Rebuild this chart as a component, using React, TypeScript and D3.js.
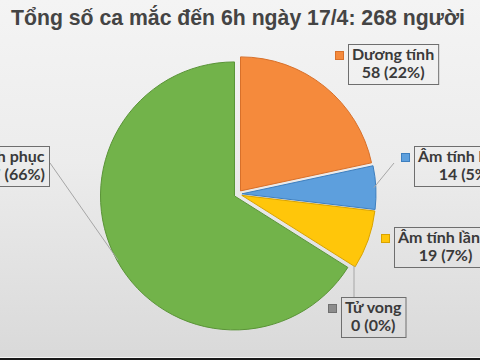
import React, {useEffect, useRef} from 'react'
import * as d3 from 'd3';

const title = 'Tổng số ca mắc đến 6h ngày 17/4: 268 người';
const categories = ['Dương tính', 'Âm tính lần 1', 'Âm tính lần 2', 'Tử vong', 'Bình phục'];
const values = [58, 14, 19, 0, 177];
const colors = ['#f58a3c', '#5d9fdd', '#ffc60a', '#8c8c8c', '#72b34a'];
const strokes = ['#d8702a', '#3d7fbf', '#d9a300', '#6f6f6f', '#5a9437'];

// label box placement: anchor side, x of that side, top y
const labelLayout = [
    {side: 'left', x: 348, top: 44},
    {side: 'left', x: 414, top: 146},
    {side: 'left', x: 394, top: 227},
    {side: 'left', x: 341, top: 297},
    {side: 'right', x: 49, top: 146},
];

export default function App(){
    const svgRef = useRef(null);
    const width = 480, height = 360;
    const cx = 238, cy = 194, r = 134, explode = 4;

    useEffect(() => {
        const svg = d3.select(svgRef.current);
        svg.selectAll('*').remove();

        const total = d3.sum(values);
        const pct = d3.format('.0%');
        const data = categories.map((c, i) => ({name: c, value: values[i], i}));

        const defs = svg.append('defs');
        const grad = defs.append('linearGradient').attr('id', 'bg').attr('x1', 0).attr('y1', 0).attr('x2', 0).attr('y2', 1);
        grad.append('stop').attr('offset', '0%').attr('stop-color', '#f4f4f4');
        grad.append('stop').attr('offset', '45%').attr('stop-color', '#ececec');
        grad.append('stop').attr('offset', '100%').attr('stop-color', '#d9d9d9');

        svg.append('rect').attr('width', width).attr('height', height).attr('fill', 'url(#bg)');
        svg.append('rect').attr('y', 357).attr('width', width).attr('height', 1).attr('fill', '#f4f4f4');
        svg.append('rect').attr('y', 358).attr('width', width).attr('height', 2).attr('fill', '#1a1a1a');

        const tt = svg.append('text')
            .attr('x', 238).attr('y', 25)
            .attr('text-anchor', 'middle')
            .attr('font-family', 'Liberation Sans, Arial, sans-serif')
            .attr('font-weight', 'bold')
            .attr('font-size', 22)
            .attr('fill', '#444')
            .text(title);
        // fit the title to the span it takes in the chart
        const tw = tt.node().getComputedTextLength();
        if (tw > 454) tt.attr('textLength', 454).attr('lengthAdjust', 'spacingAndGlyphs');

        const pie = d3.pie().sort(null).value(d => d.value).startAngle(0).endAngle(2 * Math.PI);
        const arcs = pie(data);
        const arc = d3.arc().innerRadius(0).outerRadius(r);

        const g = svg.append('g').attr('transform', `translate(${cx},${cy})`);
        g.selectAll('path')
            .data(arcs.filter(a => a.data.value > 0))
            .join('path')
            .attr('transform', a => {
                const mid = (a.startAngle + a.endAngle) / 2;
                return `translate(${Math.sin(mid) * explode},${-Math.cos(mid) * explode})`;
            })
            .attr('d', arc)
            .attr('fill', a => colors[a.data.i])
            .attr('stroke', a => strokes[a.data.i])
            .attr('stroke-width', 1)
            .attr('stroke-linejoin', 'round');

        // leader lines
        const edge = (a, extra = 0) => {
            const mid = (a.startAngle + a.endAngle) / 2;
            return [cx + Math.sin(mid) * (r + explode + extra), cy - Math.cos(mid) * (r + explode + extra)];
        };
        const leaders = [
            [edge(arcs[1], -2), [394, 163]],
            [[354, edge(arcs[3])[1] - 2], [354, 297]],
            [edge(arcs[4], -1), [50, 163]],
        ];
        svg.append('g').selectAll('line')
            .data(leaders)
            .join('line')
            .attr('x1', d => d[0][0]).attr('y1', d => d[0][1])
            .attr('x2', d => d[1][0]).attr('y2', d => d[1][1])
            .attr('stroke', '#a6a6a6').attr('stroke-width', 1);

        // labels
        const lg = svg.append('g')
            .attr('font-family', 'Lato, Open Sans, sans-serif')
            .attr('font-weight', 'bold')
            .attr('font-size', 16)
            .attr('fill', '#3a3a3a');
        data.forEach((d, i) => {
            const L = labelLayout[i];
            const grp = lg.append('g');
            const t1 = grp.append('text').attr('text-anchor', 'middle').attr('y', L.top + 16).text(d.name);
            const t2 = grp.append('text').attr('text-anchor', 'middle').attr('y', L.top + 34)
                .text(`${d.value} (${pct(d.value / total)})`);
            const w = Math.max(t1.node().getComputedTextLength(), t2.node().getComputedTextLength()) + 8;
            const left = L.side === 'left' ? L.x : L.x - w;
            t1.attr('x', left + w / 2);
            t2.attr('x', left + w / 2);
            grp.insert('rect', 'text')
                .attr('x', left + 0.5).attr('y', L.top + 0.5)
                .attr('width', w).attr('height', 40)
                .attr('fill', 'none').attr('stroke', '#6e6e6e').attr('stroke-width', 1);
            if (L.side === 'left') {
                grp.append('rect')
                    .attr('x', left - 12.5).attr('y', L.top + 7.5)
                    .attr('width', 8).attr('height', 8)
                    .attr('fill', colors[i]).attr('stroke', strokes[i]);
            }
        });
    }, []);

    return (
        <svg
            ref={svgRef}
            width={width}
            height={height}
            style={{position: 'absolute', left: 0, top: 0, display: 'block'}}
        />
    );
}
